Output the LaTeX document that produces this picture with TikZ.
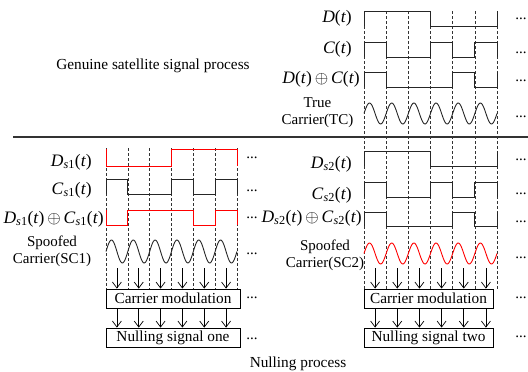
\documentclass[tikz,border=0pt]{standalone}
\usepackage{fontspec}
\setmainfont{Liberation Serif}
\usetikzlibrary{arrows.meta}

\begin{document}
\begin{tikzpicture}[
    x=1pt, y=-1pt,
    % square waveforms and carriers
    waveStyle/.style={line width=0.9pt, draw=black!85, line join=miter},
    redWave/.style={waveStyle, draw=red},
    gridStyle/.style={line width=0.5pt, draw=black!80, dash pattern=on 3pt off 2pt},
    boxStyle/.style={draw, line width=0.8pt, minimum height=19pt, inner sep=0pt,
        font=\fontsize{15.3pt}{17pt}\selectfont},
    arrStyle/.style={line width=0.7pt, -{Straight Barb[length=6pt,width=9pt]}},
    lblStyle/.style={anchor=east, inner sep=0pt, font=\fontsize{17.5pt}{20pt}\selectfont},
    carStyle/.style={align=center, inner sep=0pt, font=\fontsize{15pt}{17pt}\selectfont},
    dotsStyle/.style={inner sep=0pt, font=\fontsize{15pt}{17pt}\selectfont}
]
    \useasboundingbox (0,0) rectangle (528,372);

    % titles
    \node[font=\fontsize{15.3pt}{17pt}\selectfont] (tGen) at (153,66) {Genuine satellite signal process};
    \node[font=\fontsize{15.3pt}{17pt}\selectfont] (tNull) at (298,364) {Nulling process};

    % separator
    \draw[line width=1.3pt, black!80] (13,137) -- (528,137);

    % modulation and nulling blocks
    \node[boxStyle, minimum width=134pt] (cmL) at (173,298.5) {Carrier modulation};
    \node[boxStyle, minimum width=134pt] (nsL) at (173,337.5) {Nulling signal one};
    \node[boxStyle, minimum width=129pt] (cmR) at (428.5,298.5) {Carrier modulation};
    \node[boxStyle, minimum width=129pt] (nsR) at (428.5,337.5) {Nulling signal two};

    % Genuine signal + second spoofed signal (right column)
    \begin{scope}[shift={(364,0)}, x=22.17pt]
        \foreach \k in {0,...,6}
            \draw[gridStyle] (\k,11) -- (\k,0 |- cmR.north);
        % D(t)
        \draw[waveStyle] (0,26) -- (0,11) -- (3,11) -- (3,26) -- (6,26) -- (6,11);
        % C(t)
        \draw[waveStyle] (0,57) -- (0,42) -- (1,42) -- (1,57) -- (3,57) -- (3,42)
            -- (4,42) -- (4,57) -- (5,57) -- (5,42) -- (6,42) -- (6,57);
        % D(t) xor C(t)
        \draw[waveStyle] (0,87) -- (0,72) -- (1,72) -- (1,87) -- (4,87) -- (4,72)
            -- (5,72) -- (5,87) -- (6,87) -- (6,72);
        % true carrier
        \draw[waveStyle] plot[domain=0:6, samples=150, smooth] (\x,{113.5-10.5*sin(360*\x)});

        % Ds2(t)
        \draw[waveStyle] (0,166) -- (0,151) -- (3,151) -- (3,166) -- (6,166) -- (6,151);
        % Cs2(t)
        \draw[waveStyle] (0,197) -- (0,182) -- (1,182) -- (1,197) -- (3,197) -- (3,182)
            -- (4,182) -- (4,197) -- (5,197) -- (5,182) -- (6,182) -- (6,197);
        % Ds2(t) xor Cs2(t)
        \draw[waveStyle] (0,226) -- (0,212) -- (1,212) -- (1,226) -- (4,226) -- (4,212)
            -- (5,212) -- (5,226) -- (6,226) -- (6,212);
        % spoofed carrier SC2
        \draw[redWave] plot[domain=0:6, samples=150, smooth] (\x,{253.5-10.5*sin(360*\x)});

        \coordinate (sineR) at (0,268);
        \foreach \k in {0,...,5} {
            \draw[arrStyle] (\k+0.5,0 |- sineR) -- (\k+0.5,0 |- cmR.north);
            \draw[arrStyle] (\k+0.5,0 |- cmR.south) -- (\k+0.5,0 |- nsR.north);
        }
    \end{scope}

    % first spoofed signal (left column)
    \begin{scope}[shift={(106,0)}, x=21.83pt]
        \foreach \k in {0,...,6}
            \draw[gridStyle] (\k,148) -- (\k,0 |- cmL.north);
        % Ds1(t)
        \draw[redWave] (0,149) -- (0,166) -- (3,166) -- (3,149) -- (6,149) -- (6,166);
        % Cs1(t)
        \draw[waveStyle] (0,194) -- (0,179) -- (1,179) -- (1,194) -- (3,194) -- (3,179)
            -- (4,179) -- (4,194) -- (5,194) -- (5,179) -- (6,179) -- (6,194);
        % Ds1(t) xor Cs1(t)
        \draw[redWave] (0,210) -- (0,225) -- (1,225) -- (1,210) -- (4,210) -- (4,225)
            -- (5,225) -- (5,210) -- (6,210) -- (6,225);
        % spoofed carrier SC1
        \draw[waveStyle] plot[domain=0:6, samples=150, smooth] (\x,{251.5-11.5*sin(360*\x)});

        \coordinate (sineL) at (0,268);
        \foreach \k in {0,...,5} {
            \draw[arrStyle] (\k+0.5,0 |- sineL) -- (\k+0.5,0 |- cmL.north);
            \draw[arrStyle] (\k+0.5,0 |- cmL.south) -- (\k+0.5,0 |- nsL.north);
        }
    \end{scope}

    % signal labels
    \node[lblStyle] (lblD) at (352,18) {\textit{D}(\textit{t})};
    \node[lblStyle] (lblC) at (352,49) {\textit{C}(\textit{t})};
    \node[lblStyle] (lblDC) at (360,79) {\textit{D}(\textit{t})$\,\oplus\,$\textit{C}(\textit{t})};
    \node[carStyle] (lblTC) at (317.5,112.5) {True\\Carrier(TC)};

    \node[lblStyle] (lblDs1) at (92,162) {\textit{D}\textsubscript{\textit{s}1}(\textit{t})};
    \node[lblStyle] (lblCs1) at (92,190) {\textit{C}\textsubscript{\textit{s}1}(\textit{t})};
    \node[lblStyle] (lblDCs1) at (104,219) {\textit{D}\textsubscript{\textit{s}1}(\textit{t})$\,\oplus\,$\textit{C}\textsubscript{\textit{s}1}(\textit{t})};
    \node[carStyle] (lblSC1) at (52,251.5) {Spoofed\\Carrier(SC1)};

    \node[lblStyle] (lblDs2) at (352,164) {\textit{D}\textsubscript{\textit{s}2}(\textit{t})};
    \node[lblStyle] (lblCs2) at (352,195) {\textit{C}\textsubscript{\textit{s}2}(\textit{t})};
    \node[lblStyle] (lblDCs2) at (362,218) {\textit{D}\textsubscript{\textit{s}2}(\textit{t})$\,\oplus\,$\textit{C}\textsubscript{\textit{s}2}(\textit{t})};
    \node[carStyle] (lblSC2) at (325,255) {Spoofed\\Carrier(SC2)};

    % continuation dots
    \foreach \y [count=\i] in {19,53,81,117,160,194,222,258,298,337}
        \node[dotsStyle] (dotsR\i) at (521,\y) {...};
    \foreach \y [count=\i] in {158,191,218,254,298,339}
        \node[dotsStyle] (dotsL\i) at (252,\y) {...};
\end{tikzpicture}
\end{document}
